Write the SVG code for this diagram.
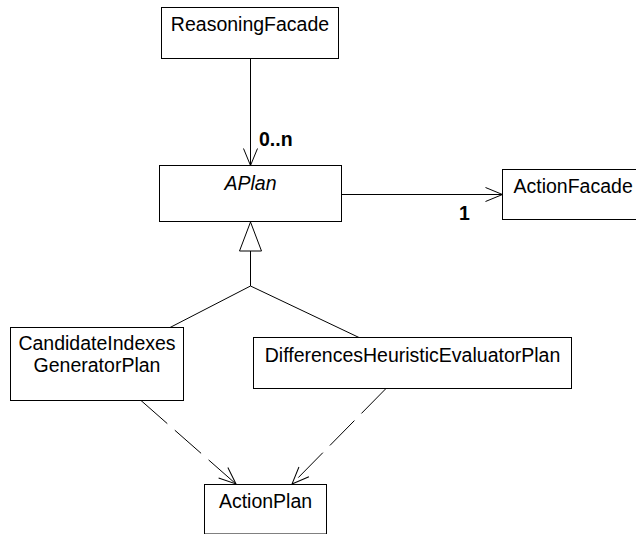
<svg xmlns="http://www.w3.org/2000/svg" width="636" height="534" viewBox="0 0 636 534">
  <style>
    .box { fill: #ffffff; stroke: #000000; stroke-width: 1; }
    .lbl { font-family: "Liberation Sans", Arial, sans-serif; font-size: 19.5px; fill: #000000; }
    .mid { text-anchor: middle; }
    .conn { stroke: #000000; stroke-width: 1; fill: none; }
    .dash { stroke-dasharray: 35 10; }
    .mult { font-family: "Liberation Sans", Arial, sans-serif; font-size: 19.5px; font-weight: bold; fill: #000000; }
  </style>
  <defs>
    <marker id="open" viewBox="-19 -9 21 18" refX="0" refY="0" markerWidth="21" markerHeight="18" markerUnits="userSpaceOnUse" orient="auto">
      <path d="M-17,-7 L0,0 L-17,7" fill="none" stroke="#000000" stroke-width="1"/>
    </marker>
  </defs>
  <rect x="0" y="0" width="636" height="534" fill="#ffffff"/>

  <g id="connectors">
    <line class="conn" x1="250.5" y1="58.5" x2="250.5" y2="165.5" marker-end="url(#open)"/>
    <line class="conn" x1="341.5" y1="194.5" x2="502.5" y2="194.5" marker-end="url(#open)"/>
    <polygon class="conn" points="250.5,222 239.5,251 261.5,251" style="fill:#ffffff"/>
    <line class="conn" x1="250.5" y1="251" x2="250.5" y2="286"/>
    <line class="conn" x1="250.5" y1="286" x2="170" y2="327.5"/>
    <line class="conn" x1="250.5" y1="286" x2="359" y2="337.5"/>
    <line class="conn dash" x1="141" y1="400.5" x2="236" y2="484" marker-end="url(#open)"/>
    <line class="conn dash" x1="386" y1="388.5" x2="292" y2="484" marker-end="url(#open)"/>
    <text class="mult" x="259" y="146">0..n</text>
    <text class="mult" x="459" y="220">1</text>
  </g>

  <g id="ReasoningFacade">
    <rect class="box" x="161.5" y="7.5" width="177" height="51"/>
    <text class="lbl mid" x="250" y="31">ReasoningFacade</text>
  </g>

  <g id="APlan">
    <rect class="box" x="159.5" y="165.5" width="182" height="56"/>
    <text class="lbl mid" x="250.5" y="189.5" font-style="italic">APlan</text>
  </g>

  <g id="ActionFacade">
    <rect class="box" x="502.5" y="169.5" width="142" height="50"/>
    <text class="lbl" x="513.5" y="193">ActionFacade</text>
  </g>

  <g id="CandidateIndexesGeneratorPlan">
    <rect class="box" x="10.5" y="327.5" width="173" height="73"/>
    <text class="lbl mid" x="97" y="349.5">CandidateIndexes</text>
    <text class="lbl mid" x="97" y="371.5">GeneratorPlan</text>
  </g>

  <g id="DifferencesHeuristicEvaluatorPlan">
    <rect class="box" x="253.5" y="337.5" width="318" height="51"/>
    <text class="lbl mid" x="412.5" y="362">DifferencesHeuristicEvaluatorPlan</text>
  </g>

  <g id="ActionPlan">
    <rect class="box" x="204.5" y="484.5" width="122" height="49.5"/>
    <text class="lbl mid" x="265.5" y="507.5">ActionPlan</text>
  </g>
</svg>
